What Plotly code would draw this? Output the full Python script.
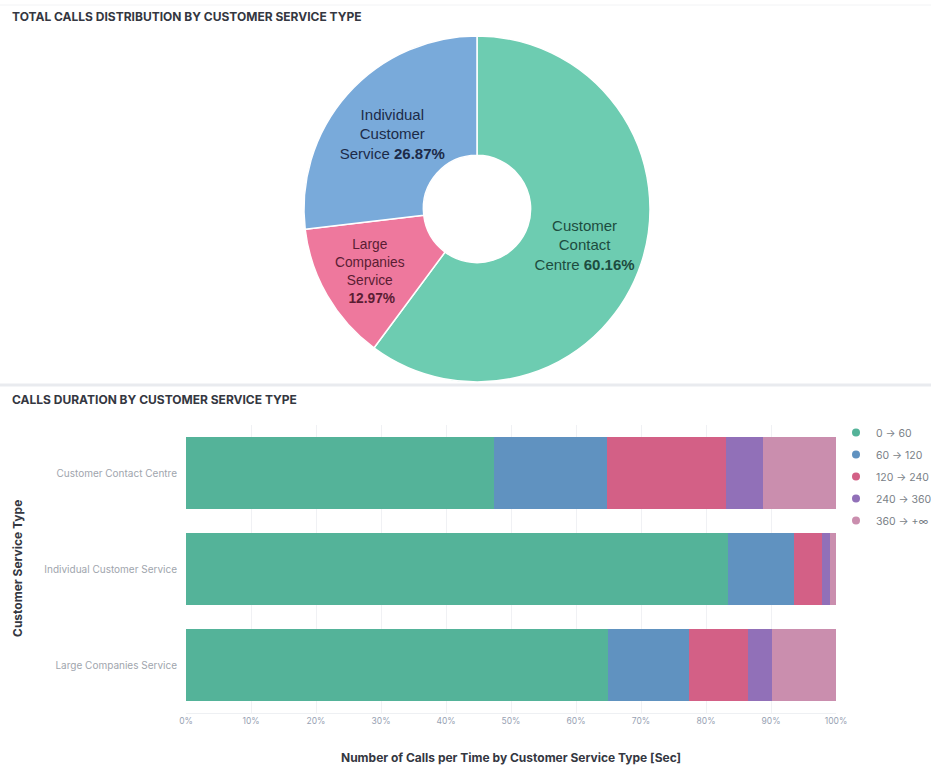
import plotly.graph_objects as go

# ---------------- data ----------------
pie_labels = ["Customer Contact Centre", "Large Companies Service", "Individual Customer Service"]
pie_label_lines = ["Customer<br>Contact<br>Centre", "Large<br>Companies<br>Service<br>", "Individual<br>Customer<br>Service"]
pie_values = [60.16, 12.97, 26.87]

categories = ["Customer Contact Centre", "Individual Customer Service", "Large Companies Service"]
bucket_names = ["0 → 60", "60 → 120", "120 → 240", "240 → 360", "360 → +∞"]
share_0_60 = [47.4, 83.4, 64.9]
share_60_120 = [17.3, 10.1, 12.5]
share_120_240 = [18.3, 4.4, 9.1]
share_240_360 = [5.8, 1.1, 3.7]
share_360_inf = [11.2, 1.0, 9.8]
x_tick_vals = [0, 10, 20, 30, 40, 50, 60, 70, 80, 90, 100]
x_tick_labels = ["0%", "10%", "20%", "30%", "40%", "50%", "60%", "70%", "80%", "90%", "100%"]

# ---------------- styles ----------------
W, H = 931, 766
ML, MR = 186, 95
PW = W - ML - MR
pie_colors = ["#6DCCB1", "#EE789D", "#79AADA"]
pie_text_colors = ["#1d4c3f", "#5a1d33", "#1c2a48"]
bar_colors = ["#54B399", "#6092C0", "#D36086", "#9170B8", "#CA8EAE"]
series = [share_0_60, share_60_120, share_120_240, share_240_360, share_360_inf]


def px_x(p):
    return (p - ML) / PW


def px_y(p):
    return 1 - p / H


fig = go.Figure()

pie_text = [f"{lab} <b>{v:.2f}%</b>" for lab, v in zip(pie_label_lines, pie_values)]
cx, cy, r = 477, 209, 173
fig.add_trace(go.Pie(
    labels=pie_labels,
    values=pie_values,
    text=pie_text,
    texttemplate="%{text}",
    textposition="inside",
    insidetextorientation="horizontal",
    textfont=dict(family="Liberation Sans, Arial", size=15, color=pie_text_colors),
    marker=dict(colors=pie_colors, line=dict(color="white", width=1.5)),
    hole=0.31,
    sort=False,
    direction="clockwise",
    rotation=0,
    showlegend=False,
    hoverinfo="label+percent",
    domain=dict(x=[px_x(cx - r), px_x(cx + r)], y=[px_y(cy + r), px_y(cy - r)]),
))

for name, vals, col in zip(bucket_names, series, bar_colors):
    fig.add_trace(go.Bar(
        y=categories, x=vals, name=name, orientation="h",
        marker=dict(color=col, line=dict(width=0)),
        showlegend=False, legendgroup=name,
    ))
for name, col in zip(bucket_names, bar_colors):
    fig.add_trace(go.Scatter(
        x=[None], y=[None], mode="markers", name=name, legendgroup=name,
        marker=dict(color=col, size=8, symbol="circle"),
    ))

plot_top, plot_bot = 425, 713
fig.update_layout(
    width=W, height=H,
    margin=dict(l=ML, r=MR, t=0, b=0),
    paper_bgcolor="white", plot_bgcolor="white",
    font=dict(family="Inter, Open Sans, sans-serif", color="#343741"),
    barmode="stack", bargap=0.25,
    xaxis=dict(range=[0, 100], tickvals=x_tick_vals, ticktext=x_tick_labels,
               showgrid=True, gridcolor="#f0f1f4", zeroline=False,
               showline=True, linecolor="#eef0f3",
               tickfont=dict(size=8.5, color="#98a2b3"), automargin=False,
               domain=[0, 1], fixedrange=True),
    yaxis=dict(domain=[px_y(plot_bot), px_y(plot_top)], autorange="reversed",
               showgrid=False, zeroline=False, ticks="outside", ticklen=6,
               tickcolor="rgba(0,0,0,0)",
               tickfont=dict(size=10, color="#a0a5ad"), automargin=False),
    legend=dict(xref="container", yref="container", x=(W - MR) / W, y=1 - 418 / H,
                xanchor="left", yanchor="top", traceorder="grouped",
                tracegroupgap=3, font=dict(size=10.5, color="#7a7f87"),
                bgcolor="rgba(0,0,0,0)"),
    shapes=[
        dict(type="line", xref="paper", yref="paper", x0=px_x(0), x1=px_x(W),
             y0=px_y(5), y1=px_y(5), line=dict(color="#f2f3f5", width=1)),
        dict(type="line", xref="paper", yref="paper", x0=px_x(0), x1=px_x(W),
             y0=px_y(385), y1=px_y(385), line=dict(color="#e9ebef", width=3)),
    ],
    annotations=[
        dict(text="<b>TOTAL CALLS DISTRIBUTION BY CUSTOMER SERVICE TYPE</b>",
             xref="paper", yref="paper", x=px_x(10), y=px_y(17),
             xanchor="left", yanchor="middle", showarrow=False,
             font=dict(size=12, color="#343741")),
        dict(text="<b>CALLS DURATION BY CUSTOMER SERVICE TYPE</b>",
             xref="paper", yref="paper", x=px_x(10), y=px_y(399),
             xanchor="left", yanchor="middle", showarrow=False,
             font=dict(size=12, color="#343741")),
        dict(text="<b>Customer Service Type</b>", textangle=-90,
             xref="paper", yref="paper", x=px_x(17), y=px_y(569),
             xanchor="center", yanchor="middle", showarrow=False,
             font=dict(size=12, color="#343741")),
        dict(text="<b>Number of Calls per Time by Customer Service Type [Sec]</b>",
             xref="paper", yref="paper", x=px_x(511), y=px_y(757),
             xanchor="center", yanchor="middle", showarrow=False,
             font=dict(size=12, color="#343741")),
    ],
)

fig.write_html("out.html", config={"displayModeBar": False},
               post_script="document.body.style.margin='0px';document.body.style.overflow='hidden';")
